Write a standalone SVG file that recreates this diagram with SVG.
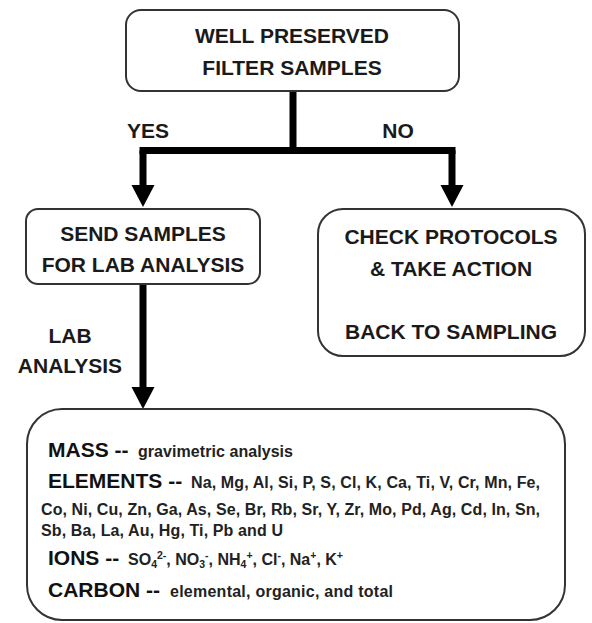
<svg xmlns="http://www.w3.org/2000/svg" width="592" height="623" viewBox="0 0 592 623">
<style>
.box{fill:#fff;stroke:#333;stroke-width:2}
.lbl{font-family:"Liberation Sans",Arial,sans-serif;font-weight:bold;font-size:21px;fill:#1a1a1a;text-anchor:middle}
.big{font-family:"Liberation Sans",Arial,sans-serif;font-weight:bold;font-size:21px;fill:#111}
.sm{font-family:"Liberation Sans",Arial,sans-serif;font-weight:bold;font-size:16px;fill:#222}
.sub{font-size:10.5px}
.conn{fill:none;stroke:#000;stroke-width:7}
</style>
<rect width="592" height="623" fill="#fff"/>
<g id="connectors">
<path class="conn" d="M293,91 V150.5"/>
<path class="conn" d="M139.5,150.5 H455.5"/>
<path class="conn" d="M143,150.5 V186"/>
<path d="M131.5,185 L154.5,185 L143,207 Z" fill="#000"/>
<path class="conn" d="M452,150.5 V186"/>
<path d="M440.5,185 L463.5,185 L452,207 Z" fill="#000"/>
<path class="conn" d="M143,284 V388"/>
<path d="M131.5,387 L154.5,387 L143,409 Z" fill="#000"/>
<text class="lbl" x="148" y="138">YES</text>
<text class="lbl" x="398" y="138">NO</text>
<text class="lbl" x="70" y="343">LAB</text>
<text class="lbl" x="70" y="373">ANALYSIS</text>
</g>
<g id="node-top">
<rect class="box" x="126" y="10" width="333" height="81" rx="15"/>
<text class="lbl" x="292" y="43">WELL PRESERVED</text>
<text class="lbl" x="292" y="75">FILTER SAMPLES</text>
</g>
<g id="node-send">
<rect class="box" x="26" y="209" width="234" height="75" rx="12"/>
<text class="lbl" x="143" y="241">SEND SAMPLES</text>
<text class="lbl" x="143" y="272">FOR LAB ANALYSIS</text>
</g>
<g id="node-check">
<rect class="box" x="318" y="209" width="267" height="147" rx="25"/>
<text class="lbl" x="451" y="244">CHECK PROTOCOLS</text>
<text class="lbl" x="451" y="276">&amp; TAKE ACTION</text>
<text class="lbl" x="451" y="339">BACK TO SAMPLING</text>
</g>
<g id="node-results">
<rect class="box" x="27" y="409" width="538" height="211" rx="35"/>
<text class="big" x="48" y="457">MASS --</text>
<text class="sm" x="138" y="457" textLength="155">gravimetric analysis</text>
<text class="big" x="48" y="488">ELEMENTS --</text>
<text class="sm" x="191" y="488" textLength="349">Na, Mg, Al, Si, P, S, Cl, K,  Ca, Ti, V, Cr, Mn, Fe,</text>
<text class="sm" x="41" y="515" textLength="499">Co, Ni, Cu, Zn, Ga, As, Se, Br, Rb, Sr, Y, Zr, Mo, Pd, Ag, Cd, In, Sn,</text>
<text class="sm" x="41" y="536" textLength="242">Sb, Ba, La, Au, Hg, Ti, Pb and U</text>
<text class="big" x="48" y="565">IONS --</text>
<text class="sm" x="128" y="565">SO<tspan class="sub" dy="3">4</tspan><tspan class="sub" dy="-9">2-</tspan><tspan dy="6">, NO</tspan><tspan class="sub" dy="3">3</tspan><tspan class="sub" dy="-9">-</tspan><tspan dy="6">, NH</tspan><tspan class="sub" dy="3">4</tspan><tspan class="sub" dy="-9">+</tspan><tspan dy="6">, Cl</tspan><tspan class="sub" dy="-6">-</tspan><tspan dy="6">, Na</tspan><tspan class="sub" dy="-6">+</tspan><tspan dy="6">, K</tspan><tspan class="sub" dy="-6">+</tspan></text>
<text class="big" x="48" y="597">CARBON --</text>
<text class="sm" x="170" y="597" textLength="223">elemental, organic, and total</text>
</g>
</svg>
